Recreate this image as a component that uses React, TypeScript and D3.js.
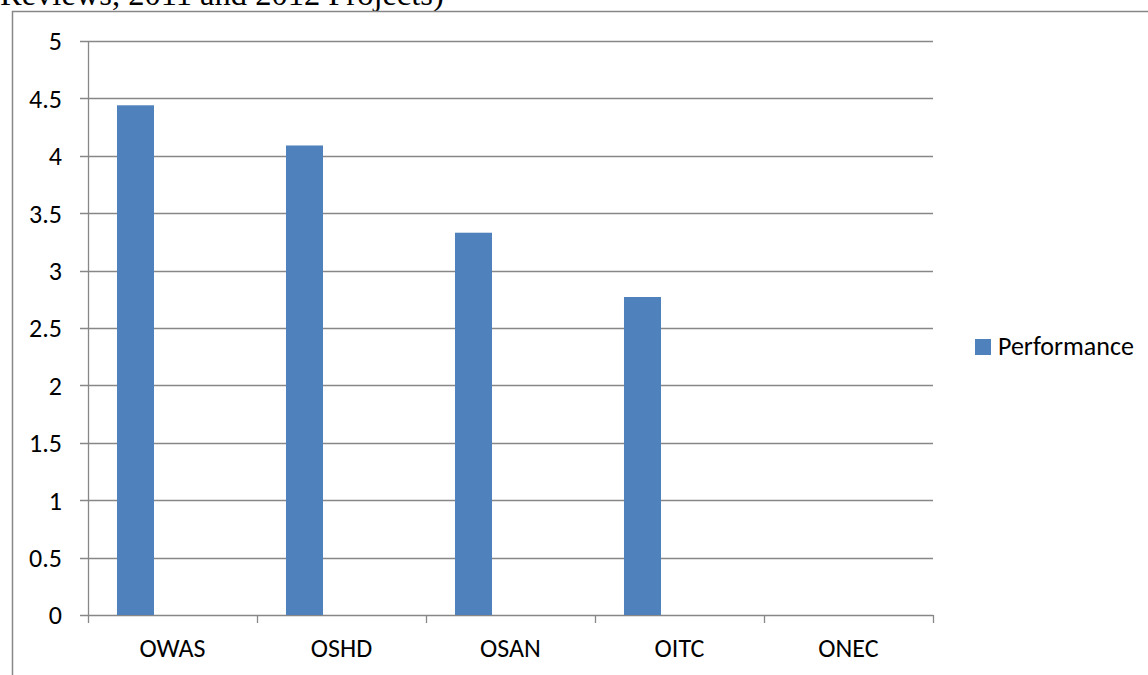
import React, { useEffect, useRef } from "react";
import * as d3 from "d3";

// data
const categories = ["OWAS", "OSHD", "OSAN", "OITC", "ONEC"];
const performance = [4.44, 4.09, 3.33, 2.77, 0];
const yTicks = [0, 0.5, 1, 1.5, 2, 2.5, 3, 3.5, 4, 4.5, 5];
const seriesName = "Performance";
const captionText = "Reviews, 2011 and 2012 Projects)";

const W = 1148, H = 675;
const FONT = "Calibri, Carlito, Lato, sans-serif";
const FS = 26;

export default function App() {
  const ref = useRef<SVGSVGElement>(null);

  useEffect(() => {
    const svg = d3.select(ref.current);
    svg.selectAll("*").remove();

    // caption cut off at top of the page (as in the source page)
    svg.append("text")
      .attr("x", 0).attr("y", 5)
      .attr("font-family", "'Liberation Serif', 'Times New Roman', serif")
      .attr("font-size", 32.5)
      .attr("fill", "#000")
      .text(captionText);

    // chart frame
    svg.append("rect")
      .attr("x", 12.5).attr("y", 11.5)
      .attr("width", W + 20).attr("height", H + 20)
      .attr("fill", "none").attr("stroke", "#878787").attr("stroke-width", 1.5);

    const margin = { left: 88, right: 933, top: 41, bottom: 615 };

    const x = d3.scaleBand().domain(categories).range([margin.left, margin.right]);
    const y = d3.scaleLinear().domain([0, 5]).range([margin.bottom, margin.top]);

    const g = svg.append("g");

    // gridlines
    g.selectAll(".grid").data(yTicks).join("line")
      .attr("x1", margin.left - 8).attr("x2", margin.right)
      .attr("y1", d => Math.round(y(d)) + 0.5).attr("y2", d => Math.round(y(d)) + 0.5)
      .attr("stroke", "#878787").attr("stroke-width", 1.3);

    // y labels
    g.selectAll(".ylab").data(yTicks).join("text")
      .attr("x", 62).attr("y", d => y(d))
      .attr("dy", "0.36em")
      .attr("text-anchor", "end")
      .attr("font-family", FONT).attr("font-size", FS)
      .attr("fill", "#000")
      .text(d => String(d));

    // y axis line
    g.append("line")
      .attr("x1", margin.left + 0.5).attr("x2", margin.left + 0.5)
      .attr("y1", margin.top).attr("y2", margin.bottom)
      .attr("stroke", "#878787").attr("stroke-width", 1.3);

    // x ticks at band boundaries
    const bounds = categories.map(c => x(c) as number).concat([margin.right]);
    g.selectAll(".xtick").data(bounds).join("line")
      .attr("x1", d => Math.round(d) + 0.5).attr("x2", d => Math.round(d) + 0.5)
      .attr("y1", margin.bottom).attr("y2", margin.bottom + 8)
      .attr("stroke", "#878787").attr("stroke-width", 1.3);

    // bars: clustered layout with three slots, only first has data
    const bw = x.bandwidth();
    const barW = bw * 0.219;
    const offset = (bw - 3 * barW) / 2;
    g.selectAll(".bar").data(performance).join("rect")
      .attr("x", (d, i) => (x(categories[i]) as number) + offset)
      .attr("width", barW)
      .attr("y", d => y(d))
      .attr("height", d => y(0) - y(d))
      .attr("fill", "#4F81BD");

    // x labels
    g.selectAll(".xlab").data(categories).join("text")
      .attr("x", d => (x(d) as number) + bw / 2)
      .attr("y", 657)
      .attr("text-anchor", "middle")
      .attr("font-family", FONT).attr("font-size", FS)
      .attr("fill", "#000")
      .text(d => d);

    // legend
    const lg = svg.append("g").attr("transform", "translate(975,339)");
    lg.append("rect").attr("width", 16).attr("height", 16).attr("fill", "#4F81BD");
    lg.append("text")
      .attr("x", 23).attr("y", 16)
      .attr("font-family", FONT).attr("font-size", FS)
      .attr("fill", "#000")
      .text(seriesName);
  }, []);

  return (
    <svg
      ref={ref}
      width={W}
      height={H}
      style={{ position: "absolute", left: 0, top: 0, background: "#fff" }}
    />
  );
}
